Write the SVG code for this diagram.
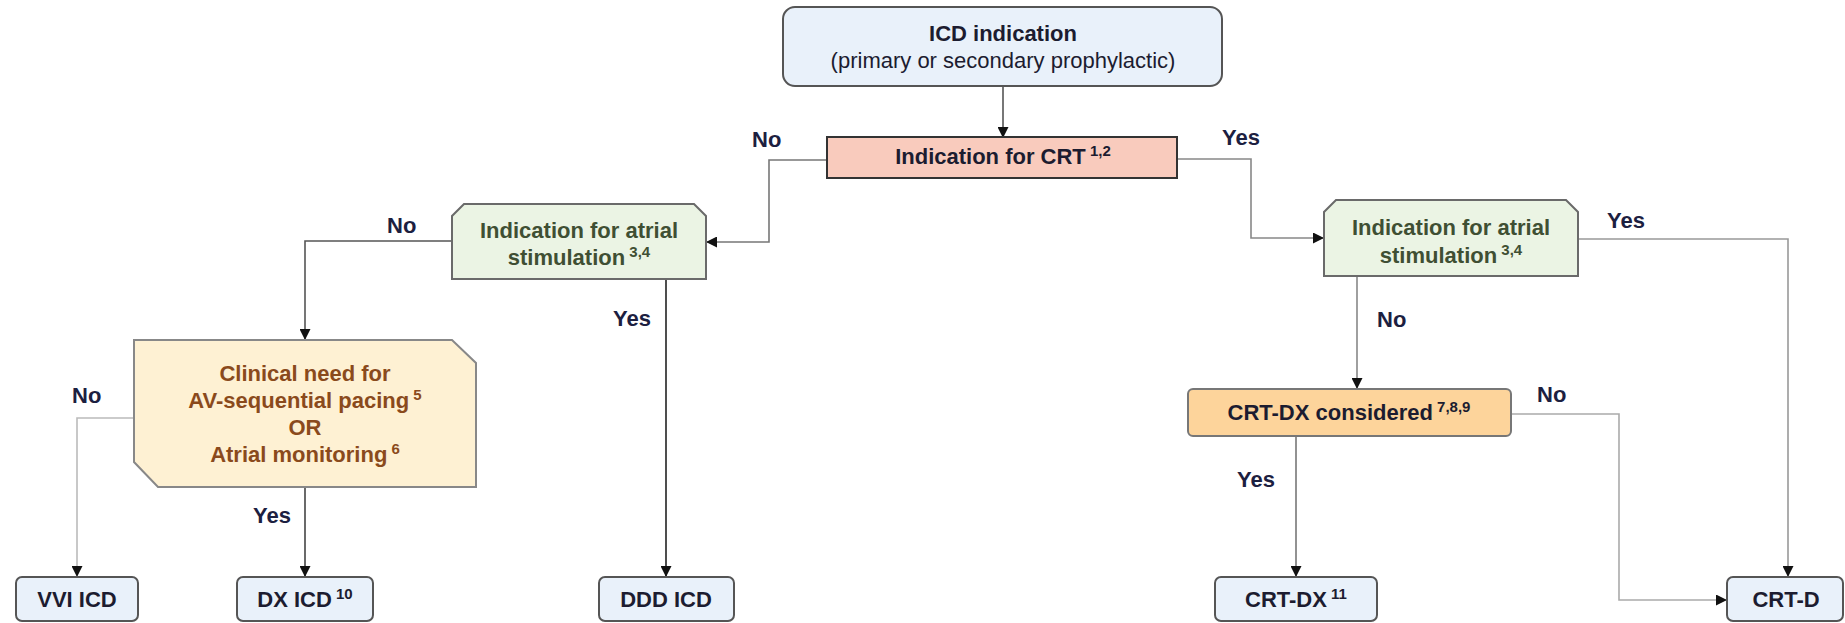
<svg xmlns="http://www.w3.org/2000/svg" width="1845" height="623" viewBox="0 0 1845 623">
<style>
text{font-family:"Liberation Sans",Arial,sans-serif;font-size:22px;font-weight:bold;fill:#1c1c30}
.c{text-anchor:middle}
.reg{font-weight:normal}
.sup{font-size:15px}
.g{fill:#3f4f33}
.br{fill:#8a4a1c}
.lbl{fill:#1c2040}
.blue{fill:#e9f1fa;stroke:#555;stroke-width:2}
.crt{fill:#f9cbbd;stroke:#333;stroke-width:2}
.green{fill:#ebf4e4;stroke:#6a6a6a;stroke-width:2}
.clin{fill:#fef1d3;stroke:#888;stroke-width:2}
.orange{fill:#fdd49b;stroke:#777;stroke-width:2}
.ln{fill:none;stroke-width:1.6;marker-end:url(#ah)}
</style>
<defs>
<marker id="ah" markerUnits="userSpaceOnUse" markerWidth="11" markerHeight="11" refX="10" refY="5.5" orient="auto">
<path d="M0,0 L11,5.5 L0,11 z" fill="#111"/>
</marker>
</defs>
<g id="connectors">
<path class="ln" stroke="#555" d="M1003 86 V137"/>
<path class="ln" stroke="#777" d="M827 160 H769 V242 H707"/>
<path class="ln" stroke="#888" d="M1177 159 H1251 V238 H1323"/>
<path class="ln" stroke="#555" d="M452 241 H305 V339"/>
<path class="ln" stroke="#222" stroke-width="2" d="M666 279 V576"/>
<path class="ln" stroke="#bbb" d="M134 418 H77 V576"/>
<path class="ln" stroke="#444" d="M305 487 V576"/>
<path class="ln" stroke="#999" d="M1578 239 H1788 V576"/>
<path class="ln" stroke="#888" d="M1357 276 V388"/>
<path class="ln" stroke="#aaa" d="M1511 414 H1619 V600 H1726"/>
<path class="ln" stroke="#777" d="M1296 436 V576"/>
</g>
<g id="labels">
<text class="lbl" x="752" y="147">No</text>
<text class="lbl" x="1222" y="145">Yes</text>
<text class="lbl" x="387" y="233">No</text>
<text class="lbl" x="613" y="326">Yes</text>
<text class="lbl" x="72" y="403">No</text>
<text class="lbl" x="253" y="523">Yes</text>
<text class="lbl" x="1607" y="228">Yes</text>
<text class="lbl" x="1377" y="327">No</text>
<text class="lbl" x="1537" y="402">No</text>
<text class="lbl" x="1237" y="487">Yes</text>
</g>
<g id="icd-indication">
<rect class="blue" x="783" y="7" width="439" height="79" rx="12"/>
<text class="c" x="1003" y="41">ICD indication</text>
<text class="c reg" x="1003" y="68">(primary or secondary prophylactic)</text>
</g>
<g id="crt-indication">
<rect class="crt" x="827" y="137" width="350" height="41"/>
<text class="c" x="1003" y="164">Indication for CRT<tspan class="sup" dy="-8"> 1,2</tspan></text>
</g>
<g id="atrial-left">
<polygon class="green" points="464,204 694,204 706,216 706,279 452,279 452,216"/>
<text class="c g" x="579" y="238">Indication for atrial</text>
<text class="c g" x="579" y="265">stimulation<tspan class="sup" dy="-8"> 3,4</tspan></text>
</g>
<g id="atrial-right">
<polygon class="green" points="1336,200 1566,200 1578,212 1578,276 1324,276 1324,212"/>
<text class="c g" x="1451" y="235">Indication for atrial</text>
<text class="c g" x="1451" y="263">stimulation<tspan class="sup" dy="-8"> 3,4</tspan></text>
</g>
<g id="clinical-need">
<polygon class="clin" points="134,340 452,340 476,363 476,487 158,487 134,462"/>
<text class="c br" x="305" y="381">Clinical need for</text>
<text class="c br" x="305" y="408">AV-sequential pacing<tspan class="sup" dy="-8"> 5</tspan></text>
<text class="c br" x="305" y="435">OR</text>
<text class="c br" x="305" y="462">Atrial monitoring<tspan class="sup" dy="-8"> 6</tspan></text>
</g>
<g id="crt-dx-considered">
<rect class="orange" x="1188" y="389" width="323" height="47" rx="5"/>
<text class="c" x="1349" y="420">CRT-DX considered<tspan class="sup" dy="-8"> 7,8,9</tspan></text>
</g>
<g id="vvi-icd">
<rect class="blue" x="16" y="577" width="122" height="44" rx="6"/>
<text class="c" x="77" y="607">VVI ICD</text>
</g>
<g id="dx-icd">
<rect class="blue" x="237" y="577" width="136" height="44" rx="6"/>
<text class="c" x="305" y="607">DX ICD<tspan class="sup" dy="-8"> 10</tspan></text>
</g>
<g id="ddd-icd">
<rect class="blue" x="599" y="577" width="135" height="44" rx="6"/>
<text class="c" x="666" y="607">DDD ICD</text>
</g>
<g id="crt-dx">
<rect class="blue" x="1215" y="577" width="162" height="44" rx="6"/>
<text class="c" x="1296" y="607">CRT-DX<tspan class="sup" dy="-8"> 11</tspan></text>
</g>
<g id="crt-d">
<rect class="blue" x="1727" y="577" width="116" height="44" rx="6"/>
<text class="c" x="1786" y="607">CRT-D</text>
</g>
</svg>
